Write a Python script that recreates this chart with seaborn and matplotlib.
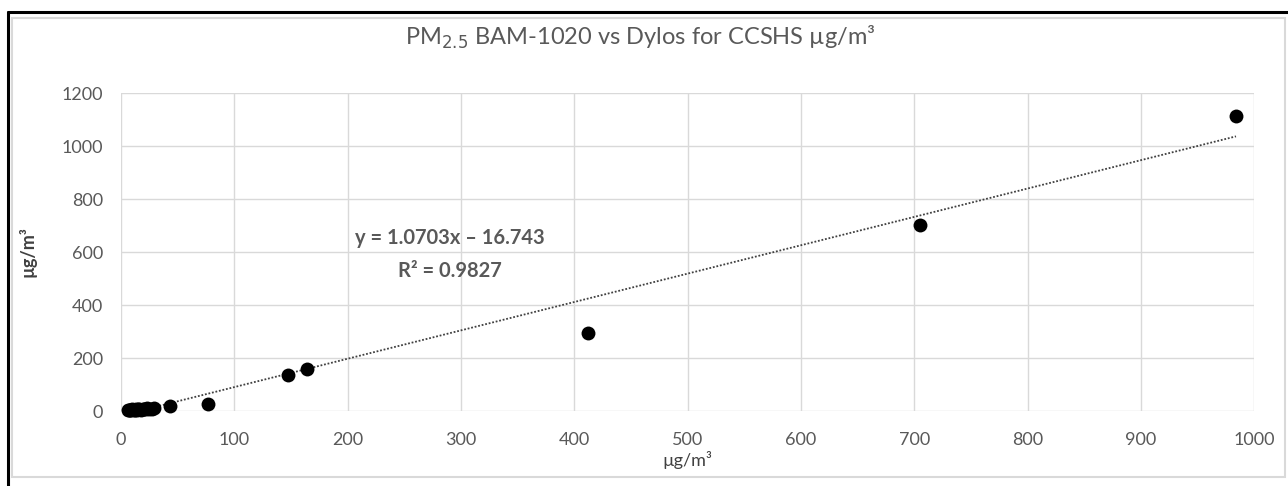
import numpy as np
import pandas as pd
import seaborn as sns
import matplotlib.pyplot as plt
from matplotlib.lines import Line2D
from matplotlib.patches import Rectangle

# data (BAM-1020 on x, Dylos on y, both ug/m3)
bam = [6, 7, 8, 9, 10, 11, 12, 13, 14, 15, 16, 18, 19, 20, 22, 23, 25, 27, 29,
       43, 77, 147, 164, 412, 705, 984]
dylos = [3, 2, 5, 4, 6, 3, 5, 7, 4, 6, 8, 5, 9, 7, 6, 10, 8, 9, 11,
         19, 26, 136, 158, 294, 702, 1112]
slope = 1.0703
intercept = -16.743
r2 = 0.9827

title = "PM$_{2.5}$ BAM-1020 vs Dylos for CCSHS µg/m³"
unit_label = "µg/m³"
x_ticks = list(range(0, 1001, 100))
y_ticks = list(range(0, 1201, 200))

df = pd.DataFrame({"bam": bam, "dylos": dylos})

sns.set_theme(style="white")
plt.rcParams["font.family"] = ["Lato", "DejaVu Sans"]
grey = "#595959"

fig = plt.figure(figsize=(12.88, 4.86), dpi=100)
ax = fig.add_axes([0.094, 0.1543, 0.8797, 0.6543])

# trendline over data range
trend_x = np.array([min(bam), max(bam)])
trend = pd.DataFrame({"x": trend_x, "y": slope * trend_x + intercept})
sns.lineplot(data=trend, x="x", y="y", ax=ax, color="#404040",
             linestyle=(0, (1, 1)), linewidth=1.3, zorder=2)

sns.scatterplot(data=df, x="bam", y="dylos", ax=ax, color="black",
                s=100, edgecolor="black", linewidth=0, zorder=3, clip_on=False)

ax.set_xlim(0, 1000)
ax.set_ylim(0, 1200)
ax.set_xticks(x_ticks)
ax.set_yticks(y_ticks)
ax.grid(True, color="#d9d9d9", linewidth=1)
ax.set_axisbelow(True)
for s in ax.spines.values():
    s.set_visible(False)
ax.tick_params(axis="x", length=0, pad=15, labelsize=13, labelcolor=grey)
ax.tick_params(axis="y", length=0, pad=13, labelsize=13, labelcolor=grey)

ax.set_xlabel(unit_label, fontsize=13, color="#404040", labelpad=2)
ax.set_ylabel(unit_label, fontsize=13, color="#404040", labelpad=18,
              fontweight="bold")
fig.text(0.497, 1 - 37 / 486, title, ha="center", va="center",
         fontsize=17, color=grey)

ax.text(0.29, 0.545, f"y = {slope}x \u2013 {abs(intercept)}",
        transform=ax.transAxes, ha="center", va="center",
        fontsize=14.5, fontweight="bold", color=grey)
ax.text(0.29, 0.44, f"R² = {r2}", transform=ax.transAxes,
        ha="center", va="center", fontsize=14.5, fontweight="bold", color=grey)

# chart area border and black frame of the cropped screenshot
fig.patches.append(Rectangle((12 / 1288, 9 / 486), 1273 / 1288, 459 / 486,
                             transform=fig.transFigure, fill=False,
                             edgecolor="#d9d9d9", linewidth=1.5))
fig.lines.append(Line2D([8 / 1288, 1], [1 - 12 / 486, 1 - 12 / 486],
                        transform=fig.transFigure, color="black", linewidth=2.2))
fig.lines.append(Line2D([8 / 1288, 8 / 1288], [0, 1 - 12 / 486],
                        transform=fig.transFigure, color="black", linewidth=2.2))

fig.savefig("out.png", dpi=100)
